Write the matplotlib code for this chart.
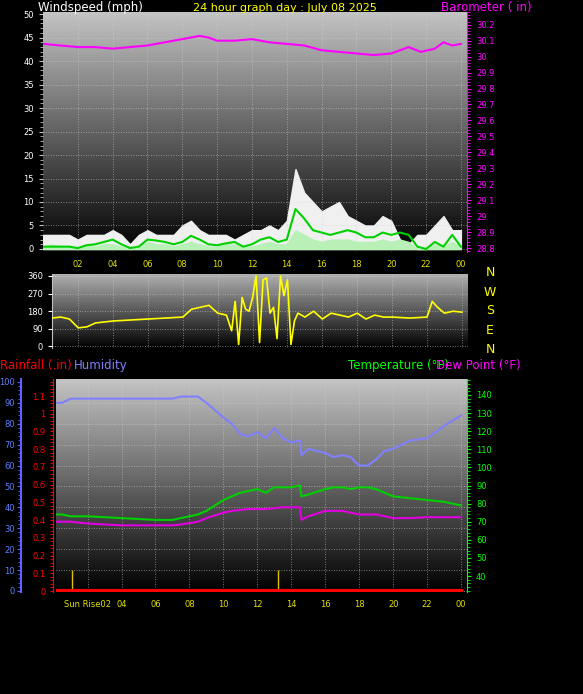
import numpy as np
import matplotlib
matplotlib.use("Agg")
import matplotlib.pyplot as plt
from matplotlib.ticker import MultipleLocator

hours_ticks = [2, 4, 6, 8, 10, 12, 14, 16, 18, 20, 22, 24]
hour_labels = ["02", "04", "06", "08", "10", "12", "14", "16", "18", "20", "22", "00"]

wind_t = list(np.arange(0, 24.01, 0.5))
gust = [3, 3, 3, 3, 2, 3, 3, 3, 4, 3, 1, 3, 4, 3, 3, 3, 5, 6, 4, 3, 3, 3, 2, 3, 4,
        4, 5, 4, 6, 17, 12, 10, 8, 9, 10, 7, 6, 5, 5, 7, 6, 2, 1, 3, 3, 5, 7, 4, 4]
avg = [0.5, 0.5, 0.5, 0.5, 0.2, 0.8, 1.0, 1.5, 2.0, 1.0, 0.2, 0.5, 2.0, 1.8, 1.5, 1.0,
       1.5, 2.8, 2.0, 1.0, 0.8, 1.2, 1.5, 0.5, 1.0, 2.0, 2.5, 1.5, 2.0, 8.5, 6.5, 4.0,
       3.5, 3.0, 3.5, 4.0, 3.5, 2.5, 2.5, 3.5, 3.0, 3.5, 3.0, 0.5, 0.0, 1.5, 0.5, 3.0, 0.5]
lull = [0.5, 1, 0.5, 0.5, 0, 1, 0.5, 1, 1, 0.5, 0, 0.5, 1.5, 1, 1, 0.5, 1, 1.5, 1, 0.5,
        0.5, 1, 1, 0.5, 0.5, 1, 1.5, 1, 1, 4, 3, 2, 1.5, 2, 2, 2, 1.5, 1.5, 1.5, 2, 1.5,
        2, 1.5, 0, 0, 1, 0.5, 1.5, 0.5]

baro_t = [0, 1, 2, 3, 4, 5, 6, 7, 8, 9, 9.5, 10, 11, 12, 13, 14, 15, 16, 17, 18, 19, 20,
          21, 21.7, 22.5, 23, 23.5, 24]
baro = [30.08, 30.07, 30.06, 30.06, 30.05, 30.06, 30.07, 30.09, 30.11, 30.13, 30.12,
        30.10, 30.10, 30.11, 30.09, 30.08, 30.07, 30.04, 30.03, 30.02, 30.01, 30.02,
        30.06, 30.03, 30.05, 30.09, 30.07, 30.08]

dir_t = [0, 0.5, 1, 1.5, 2, 2.5, 3, 3.5, 4, 5, 6, 7, 8, 8.5, 9, 9.5, 10, 10.5, 10.8, 11,
         11.2, 11.4, 11.6, 11.8, 12, 12.2, 12.4, 12.6, 12.8, 13, 13.2, 13.4, 13.6, 13.8,
         14, 14.2, 14.4, 14.6, 15, 15.5, 16, 16.5, 17, 17.5, 18, 18.5, 19, 19.5, 20, 21,
         22, 22.3, 22.6, 23, 23.5, 24]
wdir = [150, 145, 150, 140, 95, 100, 120, 125, 130, 135, 140, 145, 150, 190, 200, 210,
        170, 160, 80, 230, 10, 250, 190, 180, 250, 360, 20, 340, 350, 170, 200, 40, 360,
        260, 340, 10, 130, 170, 150, 180, 140, 170, 160, 150, 170, 140, 160, 150, 150,
        145, 150, 230, 200, 170, 180, 175]

th = [0, 0.5, 1, 2, 4, 6, 7, 7.5, 8.5, 9, 10, 10.5, 11, 11.5, 12, 12.5, 13, 13.5, 14,
      14.5, 14.6, 15, 16, 16.5, 17, 17.5, 18, 18.5, 19, 19.5, 20, 21, 22, 23, 24]
humidity = [90, 90, 92, 92, 92, 92, 92, 93, 93, 90, 83, 80, 75, 74, 76, 73, 78, 73, 71,
            72, 65, 68, 66, 64, 65, 64, 60, 60, 63, 67, 68, 72, 73, 79, 84]
temp = [74, 74, 73, 73, 72, 71, 71, 72, 74, 76, 82, 84, 86, 87, 88, 86, 89, 89, 89,
        90, 84, 85, 88, 89, 89, 88, 89, 89, 88, 86, 84, 83, 82, 81, 79]
dew = [70, 70, 70, 69, 68, 68, 68, 68.5, 70, 72, 75, 76, 76.5, 77, 77, 77, 77.5, 78,
       78, 78, 71, 73, 76, 76, 76, 75, 74, 74, 74, 73, 72, 72, 72.5, 72.5, 72.5]
rain_t = [0.2, 24]
rain = [0, 0]
sun_marks = [1.07, 13.2]

W, H = 583, 694
fig = plt.figure(figsize=(W / 100, H / 100), dpi=100, facecolor="black")

def axrect(l, t, r, b):
    return [l / W, 1 - b / H, (r - l) / W, (b - t) / H]

def gradient(ax, top="#c4c4c4"):
    g = np.linspace(1, 0, 256).reshape(-1, 1)
    from matplotlib.colors import LinearSegmentedColormap
    cm = LinearSegmentedColormap.from_list("g", ["#000000", top])
    ax.imshow(g, aspect="auto", cmap=cm, extent=[0, 1, 0, 1], transform=ax.transAxes,
              zorder=0)

def style(ax):
    ax.set_facecolor("black")
    for s in ax.spines.values():
        s.set_visible(False)
    ax.grid(True, color="#d0d0d0", linestyle=(0, (1, 2)), linewidth=0.6, alpha=0.7)
    ax.set_axisbelow(False)

# ---------- top panel ----------
ax1 = fig.add_axes(axrect(43, 12, 467, 252))
gradient(ax1)
style(ax1)
ax1.set_xlim(0, 24.35)
ax1.set_ylim(-0.64, 50.43)
ax1.fill_between(wind_t, 0, gust, color="#f0f0f0", zorder=2)
ax1.fill_between(wind_t, 0, lull, color="#b8f0b8", zorder=3)
ax1.plot(wind_t, avg, color="#00d000", lw=1.5, zorder=4)
ax1.set_xticks(hours_ticks)
ax1.set_xticklabels(hour_labels, color="#e0e000", fontsize=6)
ax1.set_yticks(range(0, 51, 5))
ax1.yaxis.set_minor_locator(MultipleLocator(1))
ax1.tick_params(axis="y", which="both", colors="#c0c0c0", labelcolor="white", labelsize=6,
                length=3, direction="out")
ax1.tick_params(axis="y", which="minor", length=2)
ax1.tick_params(axis="x", length=0, pad=6)
ax1.yaxis.grid(True, which="major")
ax1b = ax1.twinx()
for s in ax1b.spines.values():
    s.set_visible(False)
ax1b.set_ylim(28.775, 30.28)
ax1b.plot(baro_t, baro, color="#ff00ff", lw=1.5)
ax1b.set_yticks(np.round(np.arange(28.8, 30.21, 0.1), 1))
ax1b.set_yticklabels([f"{v:g}" for v in np.round(np.arange(28.8, 30.21, 0.1), 1)])
ax1b.yaxis.set_minor_locator(MultipleLocator(0.02))
ax1b.tick_params(axis="y", which="both", colors="#ff00ff", labelsize=6, length=3)
ax1b.tick_params(axis="y", which="minor", length=2)
ax1b.spines["right"].set_visible(True)
ax1b.spines["right"].set_color("#ff00ff")

fig.text(38 / W, 1 - 8 / H, "Windspeed (mph)", color="white", fontsize=8.5, va="center")
fig.text(193 / W, 1 - 8 / H, "24 hour graph day : July 08 2025", color="#ffff00",
         fontsize=8, va="center")
fig.text(441 / W, 1 - 8 / H, "Barometer ( in)", color="#ff00ff", fontsize=8.5, va="center")

# ---------- direction panel ----------
ax2 = fig.add_axes(axrect(52, 274, 468, 348))
gradient(ax2, "#b0b0b0")
style(ax2)
ax2.set_xlim(0.5, 24.35)
ax2.set_ylim(-8, 370)
ax2.plot(dir_t, wdir, color="#ffff00", lw=1.2, zorder=3)
ax2.set_xticks(hours_ticks)
ax2.set_xticklabels([])
ax2.tick_params(axis="x", length=0)
ax2.set_yticks([0, 90, 180, 270, 360])
ax2.tick_params(axis="y", colors="white", labelsize=6, length=3)
ax2.spines["left"].set_visible(True)
ax2.spines["left"].set_color("#c0c0c0")
for lbl, y in zip(["N", "W", "S", "E", "N"], [273, 292, 311, 330, 349]):
    fig.text(490 / W, 1 - y / H, lbl, color="#ffff00", fontsize=9, va="center", ha="center")

# ---------- bottom panel ----------
ax3 = fig.add_axes(axrect(56, 379, 467, 592))
gradient(ax3)
style(ax3)
ax3.set_xlim(0.14, 24.35)
ax3.set_ylim(-0.5, 101.4)
ax3.plot(th, humidity, color="#8080ff", lw=1.5, zorder=3)
ax3.set_xticks(hours_ticks)
ax3.set_xticklabels(["Sun Rise02"] + hour_labels[1:], color="#e0e000", fontsize=6)
ax3.tick_params(axis="x", length=0, pad=6)
ax3.set_yticks(range(0, 101, 10))
ax3.yaxis.set_minor_locator(MultipleLocator(2))
ax3.spines["left"].set_visible(True)
ax3.spines["left"].set_position(("outward", 25))
ax3.spines["left"].set_color("#6060ff")
ax3.spines["left"].set_linewidth(1.5)
ax3.tick_params(axis="y", which="both", colors="#6060ff", labelcolor="#6080ff",
                labelsize=6, length=3, pad=1.5)
ax3.tick_params(axis="y", which="minor", length=2)

ax3r = ax3.twinx()
for s in ax3r.spines.values():
    s.set_visible(False)
ax3r.yaxis.tick_left()
ax3r.set_ylim(-0.0056, 1.196)
ax3r.spines["left"].set_visible(True)
ax3r.spines["left"].set_color("#ff0000")
ax3r.spines["left"].set_position(("outward", 2))
ax3r.plot(rain_t, rain, color="#ff0000", lw=3, zorder=5)
ax3r.vlines(sun_marks, 0, 0.12, color="#e0c000", lw=1)
ax3r.set_yticks([0, 0.1, 0.2, 0.3, 0.4, 0.5, 0.6, 0.7, 0.8, 0.9, 1, 1.1])
ax3r.set_yticklabels(["0", "0.1", "0.2", "0.3", "0.4", "0.5", "0.6", "0.7", "0.8",
                      "0.9", "1", "1.1"])
ax3r.yaxis.set_minor_locator(MultipleLocator(0.02))
ax3r.tick_params(axis="y", which="both", colors="#ff0000", labelsize=6, length=2)

ax3t = ax3.twinx()
for s in ax3t.spines.values():
    s.set_visible(False)
ax3t.spines["right"].set_visible(True)
ax3t.spines["right"].set_color("#00ff00")
ax3t.set_ylim(31.2, 148.8)
ax3t.plot(th, temp, color="#00d000", lw=1.5)
ax3t.plot(th, dew, color="#e000e0", lw=1.5)
ax3t.set_yticks(range(40, 141, 10))
ax3t.yaxis.set_minor_locator(MultipleLocator(2))
ax3t.tick_params(axis="y", which="both", colors="#00ff00", labelsize=6, length=3)
ax3t.tick_params(axis="y", which="minor", length=2)

fig.text(0, 1 - 366 / H, "Rainfall (.in)", color="#ff0000", fontsize=8.5, va="center")
fig.text(74 / W, 1 - 366 / H, "Humidity", color="#8080ff", fontsize=8.5, va="center")
fig.text(348 / W, 1 - 366 / H, "Temperature (°F)", color="#00ff00", fontsize=8.5, va="center")
fig.text(436 / W, 1 - 366 / H, "Dew Point (°F)", color="#ff00ff", fontsize=8.5, va="center")

fig.savefig("out.png", dpi=100, facecolor="black")
